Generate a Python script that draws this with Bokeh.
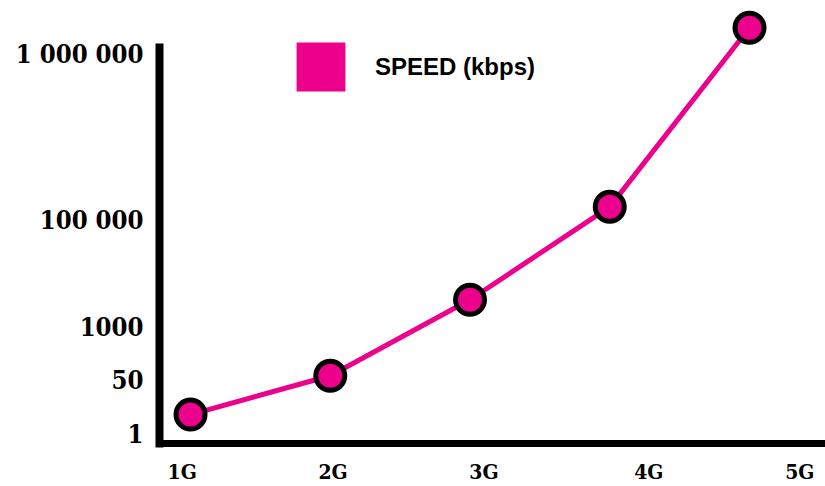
from bokeh.plotting import figure
from bokeh.models import (ColumnDataSource, Range1d, FixedTicker, CustomJSTickFormatter,
                          CustomJSTransform, Legend, LegendItem)
from bokeh.transform import transform
from bokeh.embed import file_html
from bokeh.resources import INLINE

# ---- data ----
generations = ["1G", "2G", "3G", "4G", "5G"]
gen_index = [1, 2, 3, 4, 5]
speed_kbps = [4, 64, 3200, 120000, 1450000]
series_name = "SPEED (kbps)"

y_tick_values = [1, 50, 1000, 100000, 1000000]
y_tick_labels = ["1", "50", "1000", "100 000", "1 000 000"]

# ---- layout of the (non-uniform) speed axis and label positions ----
y_tick_levels = [0, 1, 2, 4, 7.1]
x_label_pos = [0.94, 2.02, 3.1, 4.28, 5.36]

PINK = "#EC008C"
SERIF = "DejaVu Serif Condensed"

src = ColumnDataSource(dict(gen=gen_index, speed=speed_kbps, name=generations))

speed_scale = CustomJSTransform(
    args=dict(tv=y_tick_values, tl=y_tick_levels),
    v_func="""
    const L = tv.map(v => Math.log10(v));
    const out = new Float64Array(xs.length);
    for (let i = 0; i < xs.length; i++) {
        const lv = Math.log10(xs[i]);
        let k = 0;
        while (k < L.length - 2 && lv > L[k + 1]) k++;
        const t = (lv - L[k]) / (L[k + 1] - L[k]);
        out[i] = tl[k] + t * (tl[k + 1] - tl[k]);
    }
    return out;
    """,
)

p = figure(width=825, height=486, output_backend="svg", toolbar_location=None,
           x_range=Range1d(0.778, 5.544), y_range=Range1d(-0.187, 8.11),
           min_border_left=159, min_border_right=0, min_border_top=0,
           min_border_bottom=43)
p.outline_line_color = None
p.xgrid.visible = False
p.ygrid.visible = False
p.background_fill_color = "white"
p.border_fill_color = "white"

p.line(x="gen", y=transform("speed", speed_scale), source=src,
       line_color=PINK, line_width=5)
p.scatter(x="gen", y=transform("speed", speed_scale), source=src, size=29,
          fill_color=PINK, line_color="black", line_width=5)

# legend swatch proxy (not drawn in the plot area)
nan = float("nan")
sw = p.quad(left=[nan], right=[nan], top=[nan], bottom=[nan],
            fill_color=PINK, line_color=None)
legend = Legend(items=[LegendItem(label=series_name, renderers=[sw])],
                location=(131, 346), padding=0, margin=0, spacing=0,
                glyph_width=61, glyph_height=61, label_height=61,
                label_standoff=24, border_line_color=None,
                background_fill_alpha=0,
                label_text_font="Liberation Sans", label_text_font_style="bold",
                label_text_font_size="24px", label_text_color="black")
p.add_layout(legend, "center")

# x axis
xa = p.xaxis[0]
xa.ticker = FixedTicker(ticks=x_label_pos)
xa.formatter = CustomJSTickFormatter(args=dict(pos=x_label_pos, labels=generations), code="""
    const i = pos.findIndex(v => Math.abs(v - tick) < 1e-6);
    return i >= 0 ? labels[i] : "";
""")
xa.axis_line_width = 7
xa.axis_line_color = "black"
xa.axis_line_cap = "square"
xa.major_tick_line_color = None
xa.minor_tick_line_color = None
xa.major_label_standoff = 9
xa.major_label_text_font = SERIF
xa.major_label_text_font_style = "bold"
xa.major_label_text_font_size = "21px"
xa.major_label_text_color = "black"

# y axis
ya = p.yaxis[0]
ya.ticker = FixedTicker(ticks=y_tick_levels)
ya.formatter = CustomJSTickFormatter(args=dict(pos=y_tick_levels, labels=y_tick_labels), code="""
    const i = pos.findIndex(v => Math.abs(v - tick) < 1e-6);
    return i >= 0 ? labels[i] : "";
""")
ya.bounds = (-0.187, 7.23)
ya.axis_line_width = 8
ya.axis_line_color = "black"
ya.axis_line_cap = "square"
ya.major_tick_line_color = None
ya.minor_tick_line_color = None
ya.major_label_standoff = 10
ya.major_label_text_font = SERIF
ya.major_label_text_font_style = "bold"
ya.major_label_text_font_size = "25.5px"
ya.major_label_text_color = "black"

open("out.html", "w").write(file_html(p, INLINE))
